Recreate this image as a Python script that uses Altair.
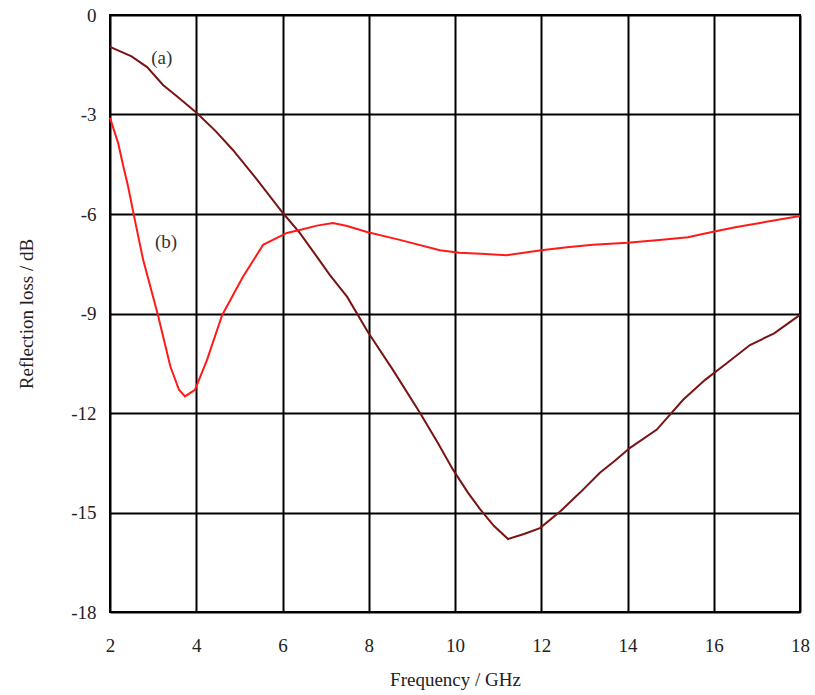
import altair as alt
import pandas as pd

# curve (a)
freq_a = [2.0, 2.5, 2.86, 3.23, 3.6, 4.02, 4.45, 4.85, 5.4, 6.01, 6.4, 6.75, 7.1, 7.5, 7.98, 8.56, 9.19, 9.6, 9.95, 10.3, 10.58, 10.9, 11.23, 11.6, 11.97, 12.43, 12.9, 13.36, 13.7, 14.06, 14.68, 15.29, 15.8, 16.3, 16.84, 17.4, 18.0]
rl_a = [-0.96, -1.25, -1.57, -2.11, -2.5, -2.96, -3.5, -4.07, -4.95, -5.97, -6.57, -7.2, -7.84, -8.5, -9.56, -10.7, -12.0, -12.9, -13.7, -14.4, -14.9, -15.4, -15.8, -15.65, -15.47, -14.98, -14.4, -13.8, -13.45, -13.05, -12.5, -11.6, -11.0, -10.5, -9.95, -9.6, -9.04]

# curve (b)
freq_b = [2.0, 2.19, 2.31, 2.42, 2.56, 2.77, 3.11, 3.4, 3.6, 3.74, 3.97, 4.25, 4.6, 5.08, 5.55, 6.1, 6.4, 6.8, 7.17, 7.5, 7.96, 8.72, 9.65, 10.1, 10.6, 11.2, 12.0, 12.6, 13.2, 14.0, 14.8, 15.4, 15.96, 16.5, 17.07, 18.0]
rl_b = [-3.1, -3.87, -4.57, -5.17, -6.08, -7.39, -9.04, -10.6, -11.3, -11.5, -11.3, -10.4, -9.05, -7.9, -6.93, -6.57, -6.48, -6.35, -6.27, -6.36, -6.54, -6.78, -7.09, -7.17, -7.2, -7.24, -7.09, -7.0, -6.93, -6.87, -6.78, -6.7, -6.54, -6.4, -6.27, -6.06]

x_ticks = [2, 4, 6, 8, 10, 12, 14, 16, 18]
y_ticks = [0, -3, -6, -9, -12, -15, -18]

label_text = ["(a)", "(b)"]
label_x = [3.2, 3.3]
label_y = [-1.3, -6.84]

df_a = pd.DataFrame({"f": freq_a, "rl": rl_a})
df_b = pd.DataFrame({"f": freq_b, "rl": rl_b})
df_lab = pd.DataFrame({"t": label_text, "f": label_x, "rl": label_y})

FONT = "Liberation Serif"

xs = alt.Scale(domain=[2, 18], nice=False, zero=False)
ys = alt.Scale(domain=[-18, 0], nice=False, zero=False)

xaxis = alt.Axis(values=x_ticks, title="Frequency / GHz", grid=True, gridColor="black",
                 gridWidth=2, gridOpacity=1, ticks=False, domain=False,
                 labelExpr="toString(datum.value)", labelFlush=False,
                 labelFont=FONT, labelFontSize=19, labelColor="#222", labelPadding=24,
                 titleFont=FONT, titleFontSize=19, titleFontWeight="normal", titleColor="#222",
                 titlePadding=15)
yaxis = alt.Axis(values=y_ticks, title="Reflection loss / dB", grid=True, gridColor="black",
                 gridWidth=2, gridOpacity=1, ticks=False, domain=False,
                 labelExpr="toString(datum.value)", labelFlush=False,
                 labelFont=FONT, labelFontSize=19, labelColor="#222", labelPadding=14,
                 titleFont=FONT, titleFontSize=19, titleFontWeight="normal", titleColor="#222",
                 titlePadding=34)

line_a = alt.Chart(df_a).mark_line(color="#7a1414", strokeWidth=2).encode(
    x=alt.X("f:Q", scale=xs, axis=xaxis),
    y=alt.Y("rl:Q", scale=ys, axis=yaxis),
)
line_b = alt.Chart(df_b).mark_line(color="#ff1a1a", strokeWidth=2).encode(
    x=alt.X("f:Q", scale=xs),
    y=alt.Y("rl:Q", scale=ys),
)
labels = alt.Chart(df_lab).mark_text(font=FONT, fontSize=19, color="#333").encode(
    x=alt.X("f:Q", scale=xs),
    y=alt.Y("rl:Q", scale=ys),
    text="t:N",
)

chart = (line_a + line_b + labels).properties(
    width=690, height=597,
    autosize=alt.AutoSizeParams(type="none"),
    padding={"left": 110, "top": 15, "right": 15, "bottom": 83},
    background="white",
).configure_view(stroke="black", strokeWidth=2)

chart.save("out.html", embed_options={"renderer": "svg", "actions": False})
